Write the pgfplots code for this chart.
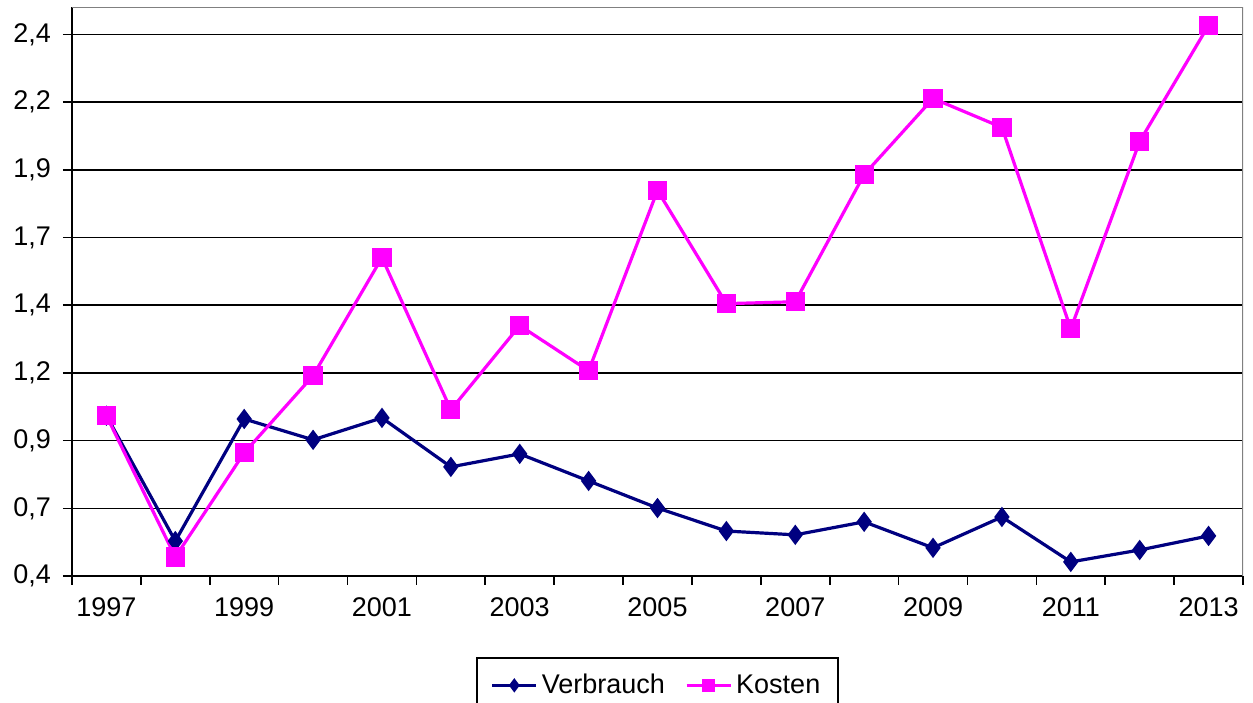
\documentclass[border=0pt]{standalone}
\usepackage{pgfplots}
\pgfplotsset{compat=1.18}
\usepackage{fontspec}
\setmainfont{Liberation Sans}
\definecolor{verbrauch}{RGB}{0,0,128}
\definecolor{kosten}{RGB}{255,0,255}
\begin{document}
\begin{tikzpicture}
\begin{axis}[
    scale only axis,
    width=585.5pt, height=284.25pt,
    xmin=-0.5, xmax=16.5,
    ymin=0.4, ymax=2.5,
    axis x line*=bottom,
    axis y line*=left,
    axis line style={black, line width=0.8pt},
    xtick={-0.5,0.5,...,16.5},
    xticklabels={},
    extra x ticks={0,2,...,16},
    extra x tick labels={1997,1999,2001,2003,2005,2007,2009,2011,2013},
    extra x tick style={major tick length=0pt, grid=none,
        xticklabel style={yshift=-7.5pt}},
    ytick={0.4,0.65,0.9,1.15,1.4,1.65,1.9,2.15,2.4},
    yticklabels={{0,4},{0,7},{0,9},{1,2},{1,4},{1,7},{1,9},{2,2},{2,4}},
    yticklabel style={xshift=-2.5pt},
    tick align=outside,
    major tick length=4.5pt,
    tick style={black, line width=0.8pt},
    ymajorgrids=true,
    grid style={black, line width=0.8pt},
    tick label style={font=\fontsize{13.5}{16}\selectfont},
    legend style={at={(0.5,-0.143)}, anchor=north, legend columns=2,
        draw=black, line width=0.8pt, font=\fontsize{13.5}{16}\selectfont,
        inner xsep=7pt, inner ysep=6pt,
        /tikz/every even column/.append style={column sep=8pt}},
    legend image code/.code={
        \draw[mark repeat=2, mark phase=2, mark options={scale=0.6}]
        plot coordinates {(0pt,0pt) (11pt,0pt) (22pt,0pt)};},
    legend cell align=left,
]
\addplot[color=verbrauch, line width=1.6pt, mark=diamond*, mark size=3.8pt,
    mark options={solid}]
    coordinates {
    (0,0.992)(1,0.529)(2,0.980)(3,0.903)(4,0.984)(5,0.803)(6,0.851)
    (7,0.751)(8,0.651)(9,0.566)(10,0.552)(11,0.600)(12,0.504)(13,0.618)
    (14,0.452)(15,0.496)(16,0.548)
    };
\addlegendentry{Verbrauch}
\addplot[color=kosten, line width=1.6pt, mark=square*, mark size=4pt,
    mark options={solid}]
    coordinates {
    (0,0.992)(1,0.470)(2,0.855)(3,1.140)(4,1.576)(5,1.014)(6,1.325)
    (7,1.158)(8,1.824)(9,1.406)(10,1.413)(11,1.883)(12,2.164)(13,2.057)
    (14,1.313)(15,2.005)(16,2.434)
    };
\addlegendentry{Kosten}
\draw[gray, line width=0.8pt] (rel axis cs:0,1) -- (rel axis cs:1,1) -- (rel axis cs:1,0);
\coordinate (bl) at (rel axis cs:0,0);
\coordinate (tr) at (rel axis cs:1,1);
\end{axis}
\pgfresetboundingbox
\path ([shift={(-36pt,-63.5pt)}]bl) rectangle ([shift={(5pt,3.75pt)}]tr);
\end{tikzpicture}
\end{document}
